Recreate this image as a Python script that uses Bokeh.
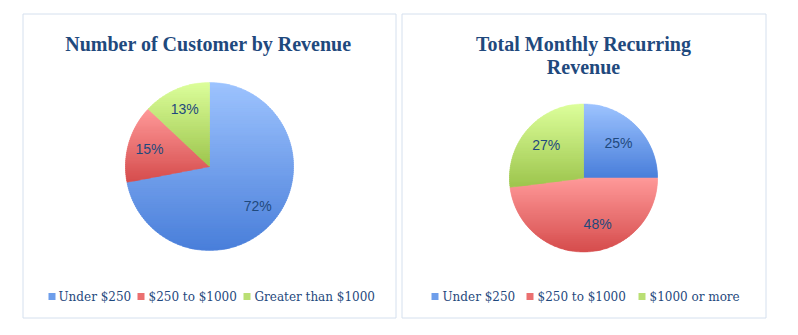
import numpy as np
from bokeh.plotting import figure
from bokeh.models import Range1d
from bokeh.core.properties import value
from bokeh.embed import file_html
from bokeh.resources import INLINE

W, H = 798, 335

# ---------------- data ----------------
left_title = ["Number of Customer by Revenue"]
left_categories = ["Under $250", "$250 to $1000", "Greater than $1000"]
left_values = [72, 15, 13]

right_title = ["Total Monthly Recurring", "Revenue"]
right_categories = ["Under $250", "$250 to $1000", "$1000 or more"]
right_values = [25, 48, 27]

# ---------------- style ----------------
top_colors = ["#9EC4FF", "#FF9A9A", "#DDFF9C"]
bottom_colors = ["#4A7FDA", "#D64E4E", "#9EC64E"]
legend_colors = ["#6E9EEB", "#EB7070", "#BADF74"]
TEXT = "#1F497D"
BORDER = "#D5E0EE"

panels = [
    dict(title=left_title, cats=left_categories, vals=left_values,
         box=(22, 396, 13, 318), cx=209, cy=166, r=84, lab=0.745,
         title_x=208, title_y=[43], leg_sq=[51.5, 140.5, 246.5], leg_tx=[58, 148, 254],
         nudge=[(0, 0), (0, 0), (0, 0)]),
    dict(title=right_title, cats=right_categories, vals=right_values,
         box=(401, 766, 13, 318), cx=583, cy=177.5, r=74, lab=0.67,
         title_x=583, title_y=[43, 66], leg_sq=[434.5, 529.5, 641.5], leg_tx=[442, 537, 649],
         nudge=[(0, 0), (11, -3), (0, 0)]),
]
LEG_Y = 296


def sy(y):
    return H - y


def hex2rgb(h):
    h = h.lstrip("#")
    return np.array([int(h[i:i + 2], 16) for i in (0, 2, 4)], dtype=float)


def mix(c0, c1, t):
    c = hex2rgb(c0) * (1 - t) + hex2rgb(c1) * t
    return "#%02x%02x%02x" % tuple(int(round(v)) for v in c)


def clip_half(poly, y0, keep_above):
    out = []
    n = len(poly)
    for i in range(n):
        p, q = poly[i], poly[(i + 1) % n]
        pin = p[1] >= y0 if keep_above else p[1] <= y0
        qin = q[1] >= y0 if keep_above else q[1] <= y0
        if pin:
            out.append(p)
        if pin != qin:
            t = (y0 - p[1]) / (q[1] - p[1])
            out.append((p[0] + t * (q[0] - p[0]), y0))
    return out


p = figure(width=W, height=H, x_range=Range1d(0, W), y_range=Range1d(0, H),
           output_backend="svg", toolbar_location=None, min_border=0,
           background_fill_color="white", border_fill_color="white")
p.axis.visible = False
p.grid.visible = False
p.outline_line_color = None

for pn in panels:
    x0, x1, y0, y1 = pn["box"]
    p.quad(left=[x0 + 0.5], right=[x1 - 0.5], top=[sy(y0 + 0.5)], bottom=[sy(y1 - 0.5)],
           fill_color=None, line_color=BORDER, line_width=1)

    cx, cy, r = pn["cx"], sy(pn["cy"]), pn["r"]
    vals = np.array(pn["vals"], dtype=float)
    fr = vals / vals.sum()
    cum = np.concatenate([[0], np.cumsum(fr)])

    xs_all, ys_all, cols = [], [], []
    for i in range(len(vals)):
        a0 = np.pi / 2 - 2 * np.pi * cum[i]
        a1 = np.pi / 2 - 2 * np.pi * cum[i + 1]
        n = max(4, int(abs(a1 - a0) * 60))
        ang = np.linspace(a0, a1, n)
        poly = [(cx, cy)] + [(cx + r * np.cos(a), cy + r * np.sin(a)) for a in ang]
        ymin = min(q[1] for q in poly)
        ymax = max(q[1] for q in poly)
        nb = max(1, int(np.ceil((ymax - ymin) / 2.0)))
        edges = np.linspace(ymax, ymin, nb + 1)
        for b in range(nb):
            hi, lo = edges[b] + 0.6, edges[b + 1] - 0.6
            piece = clip_half(poly, lo, True)
            if len(piece) < 3:
                continue
            piece = clip_half(piece, hi, False)
            if len(piece) < 3:
                continue
            t = (ymax - 0.5 * (edges[b] + edges[b + 1])) / (ymax - ymin)
            xs_all.append([q[0] for q in piece])
            ys_all.append([q[1] for q in piece])
            cols.append(mix(top_colors[i], bottom_colors[i], t))
    p.patches(xs_all, ys_all, fill_color=cols, line_color=cols, line_width=0.5)

    # percentage labels
    mids = 0.5 * (cum[:-1] + cum[1:])
    lx = [cx + pn["lab"] * r * np.sin(2 * np.pi * m) + pn["nudge"][k][0] for k, m in enumerate(mids)]
    ly = [cy + pn["lab"] * r * np.cos(2 * np.pi * m) - pn["nudge"][k][1] for k, m in enumerate(mids)]
    labels = ["%d%%" % round(f * 100) for f in fr]
    p.text(x=lx, y=ly, text=labels, text_font=value("Liberation Sans"), text_font_size="14px",
           text_color=TEXT, text_align="center", text_baseline="middle")

    # title
    p.text(x=[pn["title_x"]] * len(pn["title"]), y=[sy(v) for v in pn["title_y"]], text=pn["title"],
           text_font=value("Liberation Serif"), text_font_style="bold", text_font_size="20px",
           text_color=TEXT, text_align="center", text_baseline="alphabetic")

    # legend
    p.scatter(x=pn["leg_sq"], y=[sy(LEG_Y)] * 3, marker="square", size=7,
              fill_color=legend_colors, line_color=None)
    p.text(x=pn["leg_tx"], y=[sy(LEG_Y)] * 3, text=pn["cats"],
           text_font=value("DejaVu Serif"), text_font_size="12px",
           text_color=TEXT, text_align="left", text_baseline="middle")

open("out.html", "w").write(file_html(p, INLINE))
